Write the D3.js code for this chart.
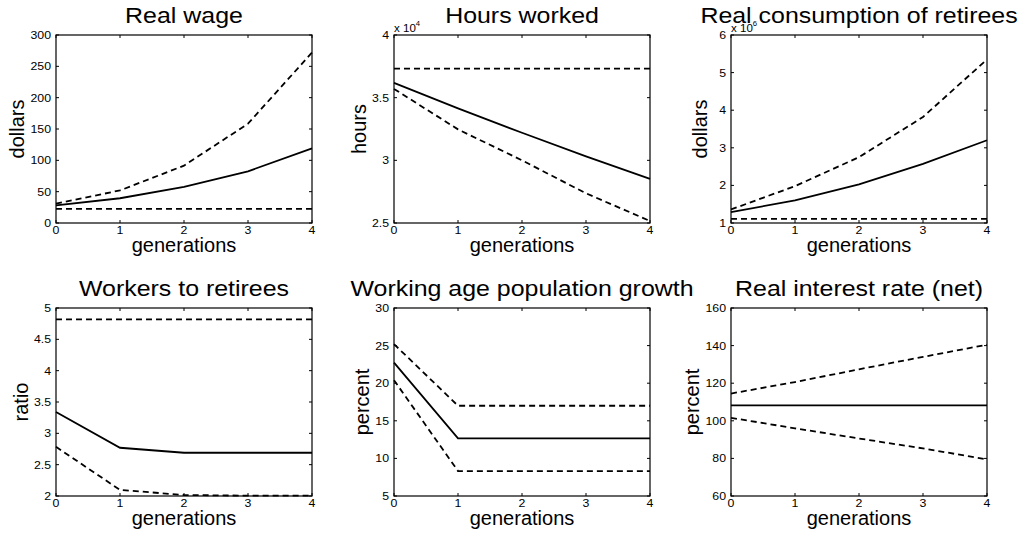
<html>
<head>
    <title>Generations panels</title>
    <script type="text/javascript" src="https://d3js.org/d3.v7.min.js"></script>
    <style>
        body {
            margin: 0;
            background: white;
            font-family: "Liberation Sans", Arial, Helvetica, sans-serif;
        }

        .frame {
            fill: none;
            stroke: black;
            stroke-width: 1.2px;
        }

        .tick {
            stroke: black;
            stroke-width: 1px;
        }

        .series {
            fill: none;
            stroke: black;
            stroke-width: 1.8px;
        }

        .dashed {
            stroke-dasharray: 6, 4;
        }
    </style>
</head>
<body>
<svg id="chart" width="1025" height="537"></svg>

<script>
    var generations = [0, 1, 2, 3, 4];

    var titles = [
        "Real wage",
        "Hours worked",
        "Real consumption of retirees",
        "Workers to retirees",
        "Working age population growth",
        "Real interest rate (net)"
    ];
    var yLabels = ["dollars", "hours", "dollars", "ratio", "percent", "percent"];

    var yDomains = [[0, 300], [25000, 40000], [1e6, 6e6], [2, 5], [5, 30], [60, 160]];
    var yTicks = [
        [0, 50, 100, 150, 200, 250, 300],
        [25000, 30000, 35000, 40000],
        [1e6, 2e6, 3e6, 4e6, 5e6, 6e6],
        [2, 2.5, 3, 3.5, 4, 4.5, 5],
        [5, 10, 15, 20, 25, 30],
        [60, 80, 100, 120, 140, 160]
    ];
    var yTickLabels = [
        ["0", "50", "100", "150", "200", "250", "300"],
        ["2.5", "3", "3.5", "4"],
        ["1", "2", "3", "4", "5", "6"],
        ["2", "2.5", "3", "3.5", "4", "4.5", "5"],
        ["5", "10", "15", "20", "25", "30"],
        ["60", "80", "100", "120", "140", "160"]
    ];
    var yExponents = [null, 4, 6, null, null, null];
    var xTickLabels = ["0", "1", "2", "3", "4"];

    // series: middle (solid), upper and lower bounds (dashed)
    var wageMid = [28, 39.5, 57.5, 82.5, 119];
    var wageHigh = [31, 52, 91.5, 158.5, 272];
    var wageLow = [22.5, 22.5, 22.5, 22.5, 22.5];

    var hoursMid = [36180, 34140, 32200, 30320, 28520];
    var hoursLow = [35700, 32470, 30000, 27370, 25160];
    var hoursHigh = [37310, 37310, 37310, 37310, 37310];

    var consMid = [1.29e6, 1.60e6, 2.03e6, 2.57e6, 3.2e6];
    var consHigh = [1.36e6, 1.98e6, 2.75e6, 3.82e6, 5.35e6];
    var consLow = [1.11e6, 1.11e6, 1.11e6, 1.11e6, 1.11e6];

    var ratioMid = [3.34, 2.77, 2.69, 2.69, 2.69];
    var ratioLow = [2.785, 2.097, 2.016, 2.005, 2.005];
    var ratioHigh = [4.82, 4.82, 4.82, 4.82, 4.82];

    var growthMid = [22.74, 12.66, 12.66, 12.66, 12.66];
    var growthHigh = [25.2, 17.0, 17.0, 17.0, 17.0];
    var growthLow = [20.4, 8.32, 8.32, 8.32, 8.32];

    var interestMid = [108.2, 108.2, 108.2, 108.2, 108.2];
    var interestHigh = [114.5, 120.6, 127.4, 134, 140.5];
    var interestLow = [101.6, 96, 90.6, 85.3, 79.5];

    var solidSeries = [wageMid, hoursMid, consMid, ratioMid, growthMid, interestMid];
    var dashedSeries = [
        [wageHigh, wageLow],
        [hoursHigh, hoursLow],
        [consHigh, consLow],
        [ratioHigh, ratioLow],
        [growthHigh, growthLow],
        [interestHigh, interestLow]
    ];

    // layout
    var plotW = 256, plotH = 188;
    var colLefts = [56, 394, 731];
    var rowTops = [35, 308];
    var tickLen = 3;
    var stretch = 1.12;      // the source fonts are rendered wide
    var titleStretch = 1.16;

    var svg = d3.select("#chart");

    titles.forEach(function (title, i) {
        var left = colLefts[i % 3];
        var top = rowTops[Math.floor(i / 3)];

        var x = d3.scaleLinear().domain([0, 4]).range([0, plotW]);
        var y = d3.scaleLinear().domain(yDomains[i]).range([plotH, 0]);

        var g = svg.append("g")
            .attr("transform", "translate(" + left + "," + top + ")");

        // ticks, inward on all four sides
        generations.forEach(function (gen) {
            g.append("line").attr("class", "tick")
                .attr("x1", x(gen)).attr("x2", x(gen))
                .attr("y1", plotH).attr("y2", plotH - tickLen);
            g.append("line").attr("class", "tick")
                .attr("x1", x(gen)).attr("x2", x(gen))
                .attr("y1", 0).attr("y2", tickLen);
        });
        yTicks[i].forEach(function (t) {
            g.append("line").attr("class", "tick")
                .attr("x1", 0).attr("x2", tickLen)
                .attr("y1", y(t)).attr("y2", y(t));
            g.append("line").attr("class", "tick")
                .attr("x1", plotW).attr("x2", plotW - tickLen)
                .attr("y1", y(t)).attr("y2", y(t));
        });

        // x tick labels
        generations.forEach(function (gen, k) {
            g.append("text")
                .attr("transform", "translate(" + x(gen) + "," + (plotH + 11) + ") scale(" + stretch + ",1)")
                .attr("text-anchor", "middle")
                .style("font-size", "11px")
                .text(xTickLabels[k]);
        });

        // y tick labels
        var widest = 0;
        yTicks[i].forEach(function (t, k) {
            var lab = g.append("text")
                .attr("transform", "translate(-5," + (y(t) + 4) + ") scale(" + stretch + ",1)")
                .attr("text-anchor", "end")
                .style("font-size", "11px")
                .text(yTickLabels[i][k]);
            widest = Math.max(widest, lab.node().getComputedTextLength() * stretch);
        });

        // exponent note
        if (yExponents[i] !== null) {
            var ex = g.append("text")
                .attr("transform", "translate(0,-3) scale(1.1,1)")
                .style("font-size", "10.5px");
            ex.append("tspan").text("x 10");
            ex.append("tspan")
                .attr("dy", -6)
                .style("font-size", "7px")
                .text(yExponents[i]);
        }

        // lines
        var line = d3.line()
            .x(function (d, k) { return x(generations[k]); })
            .y(function (d) { return y(d); });

        dashedSeries[i].forEach(function (s) {
            g.append("path")
                .attr("class", "series dashed")
                .attr("d", line(s));
        });
        g.append("path")
            .attr("class", "series")
            .attr("d", line(solidSeries[i]));

        // frame
        g.append("rect")
            .attr("class", "frame")
            .attr("width", plotW)
            .attr("height", plotH);

        // title
        g.append("text")
            .attr("transform", "translate(" + plotW / 2 + ",-12) scale(" + titleStretch + ",1)")
            .attr("text-anchor", "middle")
            .style("font-size", "21.5px")
            .text(title);

        // axis labels
        g.append("text")
            .attr("x", plotW / 2)
            .attr("y", plotH + 29)
            .attr("text-anchor", "middle")
            .style("font-size", "20px")
            .text("generations");

        var off = Math.max(widest + 11, 24);
        g.append("text")
            .attr("transform", "translate(" + (-off) + "," + plotH / 2 + ") rotate(-90)")
            .attr("text-anchor", "middle")
            .style("font-size", "20px")
            .text(yLabels[i]);
    });
</script>
</body>
</html>
